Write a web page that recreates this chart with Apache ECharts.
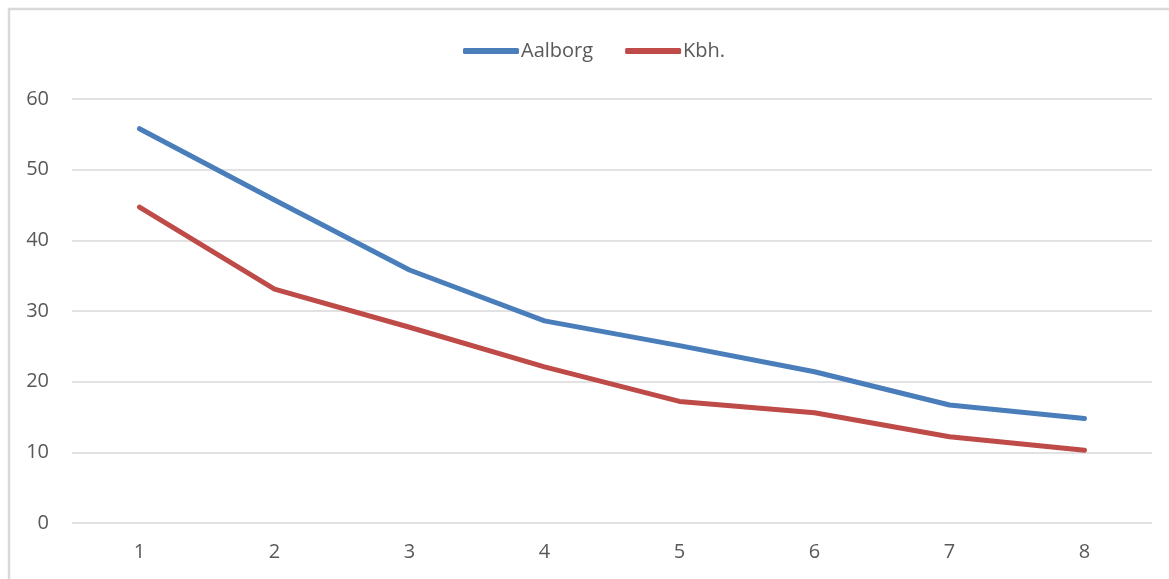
<!DOCTYPE html>
<html>
<head>
<meta charset="utf-8">
<script src="https://cdn.jsdelivr.net/npm/echarts@6/dist/echarts.min.js"></script>
<style>
  html, body { margin: 0; padding: 0; background: #fff; }
  #chart { width: 1169px; height: 579px; }
</style>
</head>
<body>
<div id="chart"></div>
<script>
const categories = ["1", "2", "3", "4", "5", "6", "7", "8"];
const aalborg = [55.8, 45.7, 35.8, 28.6, 25.1, 21.4, 16.7, 14.8];
const kbh = [44.7, 33.1, 27.7, 22.1, 17.2, 15.6, 12.2, 10.3];

const chart = echarts.init(document.getElementById("chart"));
const font = "'Open Sans', 'Liberation Sans', sans-serif";

chart.setOption({
  animation: false,
  textStyle: { fontFamily: font },
  graphic: [
    {
      type: "polyline",
      shape: { points: [[9, 579], [9, 9], [1169, 9]] },
      style: { stroke: "#d9d9d9", lineWidth: 2.5, fill: null },
      silent: true,
    },
  ],
  legend: {
    left: 458,
    top: 36,
    itemWidth: 56,
    itemHeight: 6,
    itemGap: 32,
    textStyle: { fontSize: 20, color: "#595959", fontFamily: font, padding: [0, 0, 0, -3] },
    data: [
      { name: "Aalborg", icon: "roundRect" },
      { name: "Kbh.", icon: "roundRect" },
    ],
  },
  grid: { left: 72, right: 17, top: 99, bottom: 56, containLabel: false },
  xAxis: {
    type: "category",
    data: categories,
    boundaryGap: true,
    axisLine: { show: false },
    axisTick: { show: false },
    axisLabel: { fontSize: 20, color: "#595959", margin: 19 },
  },
  yAxis: {
    type: "value",
    min: 0,
    max: 60,
    interval: 10,
    axisLine: { show: false },
    axisTick: { show: false },
    axisLabel: { fontSize: 20, color: "#595959", margin: 23 },
    splitLine: { lineStyle: { color: "#d9d9d9", width: 1.5 } },
  },
  series: [
    {
      name: "Aalborg",
      type: "line",
      data: aalborg,
      symbol: "none",
      lineStyle: { color: "#4a7ebb", width: 5, cap: "round", join: "round" },
      itemStyle: { color: "#4a7ebb" },
    },
    {
      name: "Kbh.",
      type: "line",
      data: kbh,
      symbol: "none",
      lineStyle: { color: "#be4b48", width: 5, cap: "round", join: "round" },
      itemStyle: { color: "#be4b48" },
    },
  ],
});
</script>
</body>
</html>
